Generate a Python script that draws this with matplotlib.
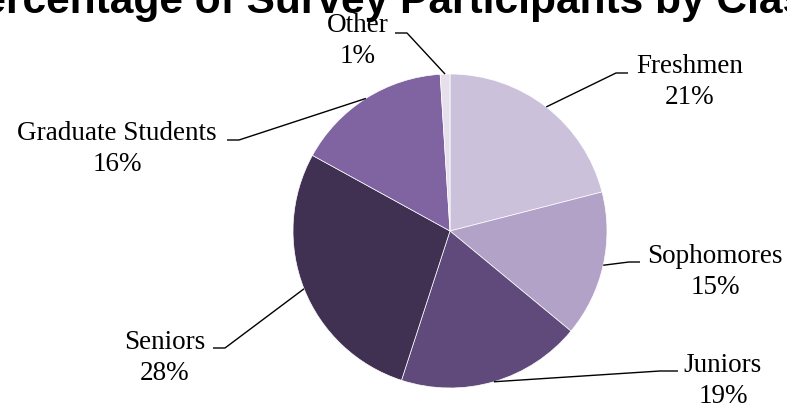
import numpy as np
import matplotlib
matplotlib.use("Agg")
import matplotlib.pyplot as plt

# survey share by class (percent)
classes = ["Freshmen", "Sophomores", "Juniors", "Seniors", "Graduate Students", "Other"]
shares = [21, 15, 19, 28, 16, 1]
colors = ["#CCC1DA", "#B3A2C7", "#604A7B", "#403152", "#8064A2", "#E6E0EC"]

# label layout in pixels (x centre, first-line baseline) and leader elbow/end
label_pos = [(690, 73), (715, 263), (723, 372), (165, 349), (117, 140), (358, 32)]
elbows = [(616, 73), (629, 262), (660, 371), (225, 348), (239, 140), (407, 33)]
ends = [(628, 73), (640, 262), (678, 371), (213, 348), (227, 140), (395, 33)]
line_gap = 31  # px between the name line and the percent line

W, H = 787, 405
fig = plt.figure(figsize=(W / 100, H / 100), dpi=100)
ax = fig.add_axes([0, 0, 1, 1])

cx, cy, r = 450, H - 231, 157
wedges, _ = ax.pie(shares, colors=colors, startangle=90, counterclock=False,
                   center=(cx, cy), radius=r,
                   wedgeprops=dict(edgecolor="white", linewidth=0.5))
ax.set_xlim(0, W)
ax.set_ylim(0, H)
ax.set_aspect("equal")
ax.set_axis_off()

for w, name, pct, (lx, ly), (ex, ey), (tx, ty) in zip(wedges, classes, shares,
                                                      label_pos, elbows, ends):
    mid = np.deg2rad((w.theta1 + w.theta2) / 2)
    px, py = cx + r * np.cos(mid), cy + r * np.sin(mid)
    ax.plot([px, ex, tx], [py, H - ey, H - ty], color="black", lw=1.0,
            solid_capstyle="butt")
    kw = dict(ha="center", va="baseline", fontsize=19.5, family="Liberation Serif")
    ax.text(lx, H - ly, name, **kw)
    ax.text(lx, H - ly - line_gap, f"{pct}%", **kw)

fig.text((W / 2 - 2) / W, (H - 13) / H, "Percentage of Survey Participants by Class",
         ha="center", va="baseline", fontsize=30.6, fontweight="bold",
         family="Liberation Sans")

fig.savefig("out.png", dpi=100)
